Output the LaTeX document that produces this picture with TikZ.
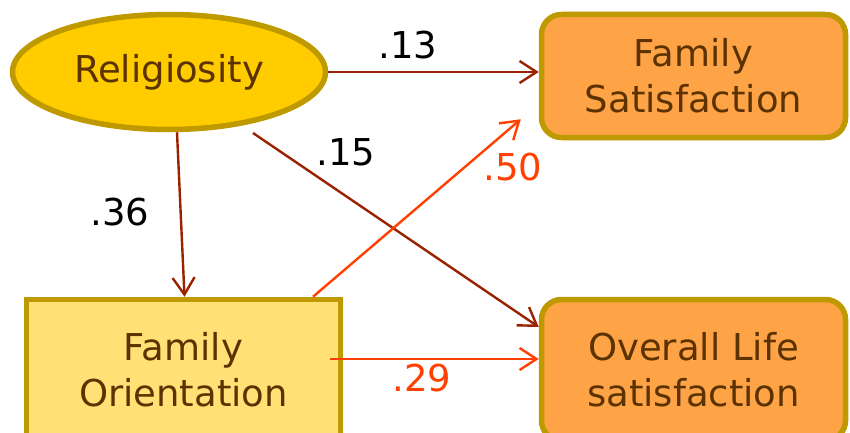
\documentclass[tikz,border=0pt]{standalone}
\usepackage{fontspec}
\setmainfont{DejaVu Sans}
\usetikzlibrary{shapes.geometric,arrows.meta,calc}
\definecolor{txt}{HTML}{5C3300}
\definecolor{rim}{HTML}{BF9900}
\definecolor{relfill}{HTML}{FFCC00}
\definecolor{fofill}{HTML}{FFE175}
\definecolor{outfill}{HTML}{FFA347}
\definecolor{darkarr}{HTML}{992200}
\definecolor{brightarr}{HTML}{FF4000}
\tikzset{
  lbl/.style={font=\fontsize{37}{44}\selectfont, text=txt, align=center, line width=5.5pt, draw=rim, inner sep=0pt},
  darkpath/.style={draw=darkarr, line width=2.4pt, -{Straight Barb[length=17pt,width=22pt,line width=2.4pt]}},
  brightpath/.style={draw=brightarr, line width=2.4pt, -{Straight Barb[length=17pt,width=22pt,line width=2.4pt]}},
  coef/.style={font=\fontsize{37}{44}\selectfont, text=black, inner sep=0pt},
  coefb/.style={font=\fontsize{37}{44}\selectfont, text=brightarr, inner sep=0pt},
}
\begin{document}
\begin{tikzpicture}[x=1pt,y=1pt]
\useasboundingbox (0,0) rectangle (850,432);
\clip (0,0) rectangle (850,432);
\node[lbl, ellipse, fill=relfill, minimum width=313pt, minimum height=115pt] (rel) at (169,360) {Religiosity};
\node[lbl, rectangle, rounded corners=20pt, fill=outfill, minimum width=304pt, minimum height=123pt] (fs) at (693.5,356) {Family\\[2pt]Satisfaction};
\node[lbl, rectangle, fill=fofill, minimum width=314pt, minimum height=141pt] (fo) at (183.5,62) {Family\\[2pt]Orientation};
\node[lbl, rectangle, rounded corners=20pt, fill=outfill, minimum width=304pt, minimum height=141pt] (ols) at (693.5,62) {Overall Life\\[2pt]satisfaction};
% connectors
\draw[darkpath] (rel.east) -- (rel.east -| fs.west);
\draw[darkpath] ([xshift=8pt]rel.south) -- ([xshift=1pt]fo.north);
\draw[darkpath] ($(rel.center)+(84,-61)$) -- ([yshift=43pt]ols.west);
\draw[brightpath] ([xshift=129.5pt]fo.north) -- ([xshift=-18pt,yshift=21pt]fs.south west);
\draw[brightpath] ([xshift=-13pt,yshift=11pt]fo.east) -- ([yshift=11pt]ols.west);
% coefficients
\node[coef] (c13) at (408,387) {.13};
\node[coef] (c36) at (120,220) {.36};
\node[coef] (c15) at (346,280) {.15};
\node[coefb] (c50) at (513,265) {.50};
\node[coefb] (c29) at (422,54) {.29};
\end{tikzpicture}
\end{document}
